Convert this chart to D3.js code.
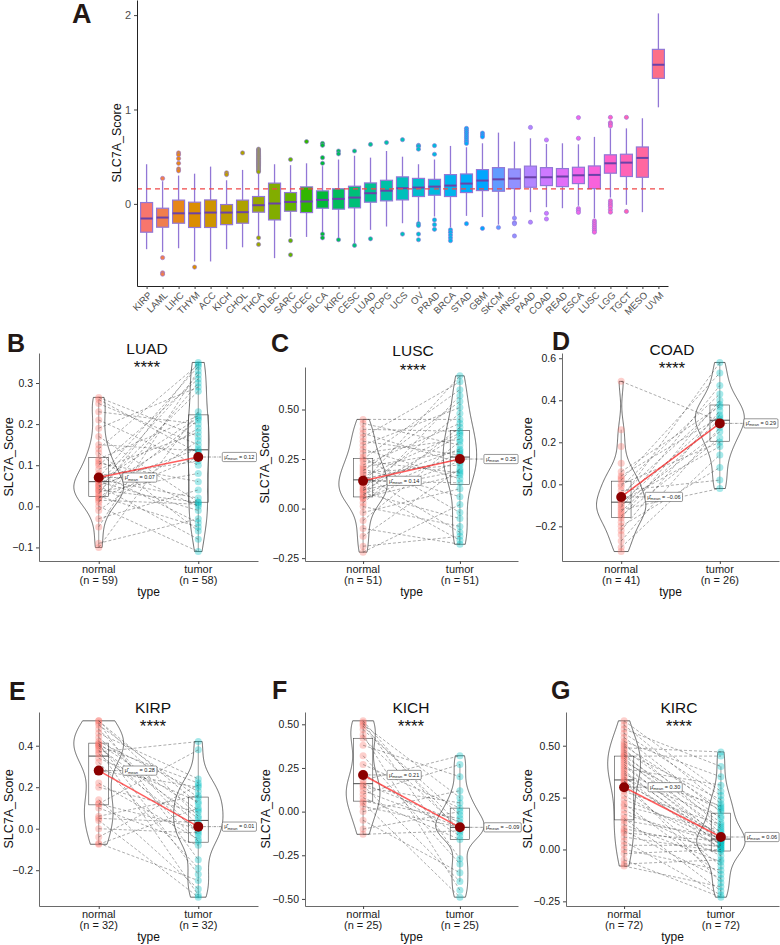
<!DOCTYPE html>
<html><head><meta charset="utf-8">
<script src="https://cdn.jsdelivr.net/npm/d3@7"></script>
<style>body{margin:0;background:#fff} svg{display:block} text{font-family:"Liberation Sans",Arial,Helvetica,sans-serif}</style>
</head><body><svg id="chart" width="780" height="945"></svg>
<script>
// ---------- Panel A data ----------
const cancerTypes = ["KIRP","LAML","LIHC","THYM","ACC","KICH","CHOL","THCA","DLBC","SARC","UCEC","BLCA","KIRC","CESC","LUAD","PCPG","UCS","OV","PRAD","BRCA","STAD","GBM","SKCM","HNSC","PAAD","COAD","READ","ESCA","LUSC","LGG","TGCT","MESO","UVM"];
const boxQ3 = [0.014,-0.046,0.04,0.018,0.042,-0.007,0.04,0.078,0.22,0.12,0.18,0.138,0.16,0.187,0.222,0.25,0.286,0.27,0.26,0.31,0.317,0.363,0.384,0.37,0.40,0.384,0.374,0.388,0.402,0.52,0.526,0.603,1.637];
const boxMedian = [-0.155,-0.145,-0.10,-0.10,-0.092,-0.092,-0.088,-0.014,0.004,0.02,0.025,0.042,0.053,0.067,0.113,0.14,0.166,0.173,0.183,0.194,0.215,0.247,0.26,0.268,0.282,0.282,0.29,0.303,0.307,0.43,0.437,0.487,1.474];
const boxQ1 = [-0.30,-0.247,-0.205,-0.25,-0.25,-0.22,-0.205,-0.088,-0.17,-0.078,-0.092,-0.046,-0.056,-0.042,0.018,0.032,0.042,0.078,0.092,0.078,0.12,0.141,0.134,0.162,0.176,0.194,0.183,0.215,0.162,0.325,0.29,0.282,1.33];
const whiskerHigh = [0.42,0.24,0.30,0.32,0.395,0.25,0.36,0.32,0.42,0.41,0.43,0.40,0.47,0.51,0.49,0.56,0.50,0.42,0.47,0.614,0.60,0.642,0.755,0.66,0.695,0.635,0.642,0.631,0.71,0.80,0.80,0.907,2.018];
const whiskerLow = [-0.48,-0.51,-0.47,-0.61,-0.61,-0.48,-0.46,-0.35,-0.575,-0.35,-0.35,-0.31,-0.36,-0.42,-0.275,-0.24,-0.205,-0.19,-0.134,-0.25,-0.127,-0.14,-0.22,-0.127,-0.088,-0.035,-0.046,-0.02,-0.15,0.067,-0.01,-0.088,1.023];
const outlierValues = [
  [], [0.27,-0.57,-0.73,-0.745], [0.54,0.52,0.48,0.43,0.37,0.35], [-0.67], [], [0.33,0.31], [0.54],
  [0.58,0.57,0.56,0.55,0.54,0.53,0.52,0.51,0.50,0.49,0.48,0.47,0.46,0.45,0.44,0.43,0.42,0.41,0.40,0.39,0.38,0.37,0.36,0.35,0.34,-0.36,-0.43],
  [], [0.47,-0.39,-0.54], [0.66], [0.64,0.62,0.49,0.43,-0.32,-0.36], [0.56,0.53,-0.38], [0.56,-0.44], [0.63,-0.37],
  [0.65], [0.68,-0.32], [0.62,0.61,0.58,-0.21,-0.23,-0.32,-0.38], [0.617,0.526,-0.17,-0.22,-0.27], [-0.275,-0.30,-0.33,-0.36,-0.39],
  [0.80,0.78,0.76,0.74,0.72,0.70,0.68,0.66,0.64,-0.21], [0.75,0.73,0.71,-0.26], [-0.25], [-0.15,-0.20,-0.21,-0.34], [0.81,-0.194],
  [0.677,-0.10,-0.16], [], [0.914,0.695,-0.05,-0.07,-0.09], [-0.18,-0.20,-0.22,-0.24,-0.26,-0.28,-0.30],
  [0.917,0.86,0.846,0.825,0.032,0.01,-0.01,-0.03,-0.06,-0.088], [0.917,-0.08], [], []
];
const referenceLine = 0.159;
const yTicksA = [0, 1, 2];

// ---------- Paired panels data ----------
const luadNormal = [-0.10,-0.09,-0.05,-0.03,-0.01,0.00,0.01,0.015,0.02,0.02,0.025,0.03,0.035,0.04,0.04,0.045,0.05,0.05,0.055,0.06,0.06,0.065,0.07,0.075,0.08,0.09,0.10,0.105,0.11,0.115,0.13,0.14,0.15,0.17,0.19,0.21,0.23,0.25,0.26,0.265];
const luadTumor = [0.23,-0.03,0.33,0.04,0.16,-0.11,0.30,0.005,0.21,0.12,-0.05,0.35,0.08,0.19,0.01,0.28,-0.08,0.14,0.32,-0.01,0.215,0.02,0.34,0.11,-0.04,0.18,0.31,0.06,0.00,0.22,-0.06,0.345,0.135,0.01,0.29,0.10,0.20,0.15,0.13,0.17];
const luadMeans = [0.07, 0.12];
const luadN = [59, 58];

const luscNormal = [-0.22,-0.19,-0.14,-0.10,-0.06,-0.02,0.01,0.03,0.05,0.055,0.06,0.07,0.08,0.09,0.095,0.10,0.11,0.12,0.13,0.14,0.15,0.16,0.17,0.18,0.19,0.20,0.21,0.22,0.24,0.25,0.26,0.28,0.30,0.32,0.34,0.36,0.38,0.40,0.43,0.45];
const luscTumor = [0.02,-0.14,0.20,-0.18,0.34,0.10,-0.09,0.41,0.24,0.17,0.57,0.28,-0.05,0.37,0.19,0.48,-0.16,0.30,0.67,0.13,0.25,0.38,-0.12,0.22,0.54,0.06,0.29,0.43,0.18,0.60,-0.02,0.35,0.15,0.51,0.27,0.64,0.23,0.39,0.32,0.45];
const luscMeans = [0.14, 0.25];
const luscN = [51, 51];

const coadNormal = [0.49,-0.30,-0.27,-0.22,-0.20,-0.16,-0.15,-0.13,-0.12,-0.11,-0.10,-0.09,-0.08,-0.07,-0.06,-0.05,-0.03,-0.01,0.00,0.02,0.04,0.06,-0.32,-0.24,-0.18,-0.14,0.03,0.10,0.18,0.26];
const coadTumor = [0.30,0.14,0.27,0.35,0.08,0.40,0.22,0.31,-0.02,0.47,0.25,0.33,0.18,0.58,0.29,0.38,0.02,0.43,0.20,0.53,0.32,0.37];
const coadMeans = [-0.06, 0.29];
const coadN = [41, 26];

const kirpNormal = [-0.075,-0.07,-0.04,0.00,0.04,0.05,0.06,0.10,0.12,0.12,0.14,0.20,0.22,0.28,0.32,0.34,0.36,0.37,0.38,0.39,0.40,0.40,0.41,0.41,0.42,0.44,0.46,0.48,0.50,0.51,0.52,0.52];
const kirpTumor = [0.10,-0.25,0.21,-0.02,-0.33,0.03,0.16,-0.08,0.38,0.00,-0.29,0.08,-0.05,0.20,-0.19,0.13,-0.01,0.42,-0.32,0.05,0.22,-0.06,0.09,-0.22,0.18,0.02,0.24,-0.03,0.15,-0.15,0.12,0.06];
const kirpMeans = [0.28, 0.01];
const kirpN = [32, 32];

const kichNormal = [-0.13,-0.10,-0.05,0.00,0.03,0.05,0.06,0.08,0.10,0.12,0.14,0.15,0.16,0.18,0.22,0.27,0.32,0.38,0.42,0.44,0.47,0.49,0.50,0.51,0.52];
const kichTumor = [-0.11,0.00,-0.35,0.12,-0.09,-0.49,-0.04,-0.16,0.27,-0.09,0.05,-0.40,-0.06,0.32,-0.14,0.02,-0.30,0.20,-0.10,-0.45,-0.02,-0.08,0.08,-0.27,-0.12];
const kichMeans = [0.21, -0.09];
const kichN = [25, 25];

const kircNormal = [-0.08,-0.07,-0.05,-0.02,0.00,0.02,0.04,0.06,0.08,0.09,0.10,0.12,0.14,0.15,0.17,0.19,0.21,0.22,0.24,0.26,0.28,0.30,0.32,0.33,0.33,0.34,0.35,0.36,0.37,0.38,0.39,0.40,0.41,0.42,0.43,0.44,0.45,0.45,0.46,0.47,0.48,0.49,0.50,0.51,0.52,0.54,0.56,0.58,0.60,0.62];
const kircTumor = [-0.18,-0.05,-0.23,0.00,-0.10,0.02,-0.22,-0.01,0.04,-0.14,0.01,-0.06,0.06,-0.20,0.03,-0.03,0.09,-0.12,0.05,0.01,0.12,-0.08,0.07,0.03,-0.16,0.16,0.00,0.21,0.04,0.02,0.31,0.06,0.04,0.19,0.10,0.05,0.45,0.13,0.08,0.24,0.15,0.47,0.20,0.11,0.35,0.18,0.26,0.40,0.22,0.28];
const kircMeans = [0.30, 0.06];
const kircN = [72, 72];

const groupNames = ["normal", "tumor"];
const significance = "****";

// ---------- helpers ----------
function hcl2hex(h, c, l) {
  const hr = h * Math.PI / 180;
  const U = c * Math.cos(hr), V = c * Math.sin(hr);
  const Xn = 95.047, Yn = 100, Zn = 108.883;
  const den = Xn + 15 * Yn + 3 * Zn;
  const un = 4 * Xn / den, vn = 9 * Yn / den;
  const Y = Yn * (l > 8 ? Math.pow((l + 16) / 116, 3) : l / 903.2963);
  const u = U / (13 * l) + un, v = V / (13 * l) + vn;
  const X = 9 * Y * u / (4 * v);
  const Z = 3 * Y / v - X / 3 - 5 * Y;
  const x = X / 100, y = Y / 100, z = Z / 100;
  const r = 3.240479 * x - 1.537150 * y - 0.498535 * z;
  const g = -0.969256 * x + 1.875992 * y + 0.041556 * z;
  const b = 0.055648 * x - 0.204043 * y + 1.057311 * z;
  const gam = t => { t = t <= 0.0031308 ? 12.92 * t : 1.055 * Math.pow(t, 1 / 2.4) - 0.055; return Math.round(255 * Math.max(0, Math.min(1, t))); };
  return d3.rgb(gam(r), gam(g), gam(b)).formatHex();
}

const svg = d3.select("#chart");

// ---------- Panel A ----------
(function drawA() {
  const g = svg.append("g");
  const xA = d3.scalePoint().domain(cancerTypes).range([137, 668]).padding(0.6);
  const yA = d3.scaleLinear().domain([-0.87, 2.16]).range([286, 0]);
  const n = cancerTypes.length;
  const fills = cancerTypes.map((c, i) => hcl2hex(15 + 360 * i / n, 100, 65));
  const bw = xA.step() * 0.75;
  const rows = cancerTypes.map((c, i) => ({ c, i, q1: boxQ1[i], med: boxMedian[i], q3: boxQ3[i], lo: whiskerLow[i], hi: whiskerHigh[i], out: outlierValues[i], fill: fills[i] }));
  const purple = "#9277d6", dark = "#6a42a8";
  const bx = g.selectAll("g.box").data(rows).join("g").attr("class", "box");
  bx.append("line").attr("x1", d => xA(d.c)).attr("x2", d => xA(d.c)).attr("y1", d => yA(d.hi)).attr("y2", d => yA(d.q3)).attr("stroke", purple).attr("stroke-width", 1.3);
  bx.append("line").attr("x1", d => xA(d.c)).attr("x2", d => xA(d.c)).attr("y1", d => yA(d.q1)).attr("y2", d => yA(d.lo)).attr("stroke", purple).attr("stroke-width", 1.3);
  bx.append("rect").attr("x", d => xA(d.c) - bw / 2).attr("width", bw).attr("y", d => yA(d.q3)).attr("height", d => yA(d.q1) - yA(d.q3))
    .attr("fill", d => d.fill).attr("stroke", purple).attr("stroke-width", 1.2);
  bx.append("line").attr("x1", d => xA(d.c) - bw / 2).attr("x2", d => xA(d.c) + bw / 2).attr("y1", d => yA(d.med)).attr("y2", d => yA(d.med)).attr("stroke", dark).attr("stroke-width", 2);
  bx.each(function (d) {
    d3.select(this).selectAll("circle").data(d.out).join("circle")
      .attr("cx", xA(d.c)).attr("cy", v => yA(v)).attr("r", 2.1)
      .attr("fill", d.fill).attr("stroke", purple).attr("stroke-width", 0.6);
  });
  g.append("line").attr("x1", 137).attr("x2", 668).attr("y1", yA(referenceLine)).attr("y2", yA(referenceLine))
    .attr("stroke", "#f04848").attr("stroke-width", 1.2).attr("stroke-dasharray", "5,4");
  const ay = g.append("g").attr("transform", "translate(137,0)")
    .call(d3.axisLeft(yA).tickValues(yTicksA).tickFormat(d3.format("d")).tickSize(3).tickSizeOuter(0));
  ay.select(".domain").attr("stroke", "#222").attr("stroke-width", 1);
  ay.selectAll(".tick line").attr("stroke", "#444");
  ay.selectAll(".tick text").attr("fill", "#4d4d4d").attr("font-size", 11).attr("font-family", '"Liberation Sans",Arial,sans-serif');
  const ax = g.append("g").attr("transform", "translate(0,286)")
    .call(d3.axisBottom(xA).tickSize(3).tickSizeOuter(0).tickFormat(""));
  ax.select(".domain").attr("stroke", "#222").attr("stroke-width", 1);
  ax.selectAll(".tick line").attr("stroke", "#444");
  g.selectAll("text.xl").data(cancerTypes).join("text").attr("class", "xl")
    .attr("transform", d => `translate(${xA(d) + 1},${291}) rotate(-45)`)
    .attr("text-anchor", "end").attr("dy", "0.71em").attr("font-size", 9.5).attr("fill", "#4d4d4d").text(d => d);
  g.append("text").attr("transform", "translate(117,143) rotate(-90)").attr("text-anchor", "middle").attr("dy", "0.35em")
    .attr("font-size", 12.5).attr("fill", "#111").text("SLC7A_Score");
  g.append("text").attr("x", 72).attr("y", 23).attr("font-size", 27).attr("font-weight", "bold").attr("fill", "#231815").text("A");
})();

// ---------- Paired panels ----------
function drawPaired(p) {
  const g = svg.append("g");
  const all = p.normal.concat(p.tumor);
  const [mn, mx] = d3.extent(all);
  const pad = (mx - mn) * 0.05;
  const y = d3.scaleLinear().domain([mn - pad, mx + pad]).range([p.bottom, p.top]);
  const x = d3.scalePoint().domain(groupNames).range([p.left, p.right]).padding(0.6);
  const groups = [
    { key: groupNames[0], vals: p.normal, color: "#F8766D", mean: p.means[0], n: p.n[0] },
    { key: groupNames[1], vals: p.tumor, color: "#00BFC4", mean: p.means[1], n: p.n[1] }
  ];
  groups.forEach(gr => {
    const s = gr.vals.slice().sort(d3.ascending);
    const sd = d3.deviation(s);
    const q1 = d3.quantile(s, 0.25), q3 = d3.quantile(s, 0.75);
    const bwd = 0.9 * Math.min(sd, (q3 - q1) / 1.34) * Math.pow(s.length, -0.2);
    const lo = s[0], hi = s[s.length - 1];
    gr.dens = d3.range(0, 201).map(k => {
      const v = lo + (hi - lo) * k / 200;
      const d = d3.mean(s, t => Math.exp(-0.5 * ((v - t) / bwd) ** 2)) / (bwd * Math.sqrt(2 * Math.PI));
      return { v, d };
    });
    gr.q1 = q1; gr.q3 = q3; gr.med = d3.median(s);
    const iqr = q3 - q1;
    gr.wlo = d3.min(s.filter(v => v >= q1 - 1.5 * iqr));
    gr.whi = d3.max(s.filter(v => v <= q3 + 1.5 * iqr));
    gr.cx = x(gr.key);
  });
  const maxD = d3.max(groups, gr => d3.max(gr.dens, d => d.d));
  const halfMax = x.step() * 0.25;
  const bw = x.step() * 0.2;
  groups.forEach(gr => {
    const area = d3.area()
      .x0(d => gr.cx - d.d / maxD * halfMax).x1(d => gr.cx + d.d / maxD * halfMax).y(d => y(d.v));
    g.append("path").attr("d", area(gr.dens)).attr("fill", "none").attr("stroke", "#2b2b2b").attr("stroke-width", 0.7);
    g.append("line").attr("x1", gr.cx).attr("x2", gr.cx).attr("y1", y(gr.whi)).attr("y2", y(gr.q3)).attr("stroke", "#555").attr("stroke-width", 0.6);
    g.append("line").attr("x1", gr.cx).attr("x2", gr.cx).attr("y1", y(gr.q1)).attr("y2", y(gr.wlo)).attr("stroke", "#555").attr("stroke-width", 0.6);
    g.append("rect").attr("x", gr.cx - bw / 2).attr("width", bw).attr("y", y(gr.q3)).attr("height", y(gr.q1) - y(gr.q3))
      .attr("fill", "none").attr("stroke", "#444").attr("stroke-width", 0.6);
    g.append("line").attr("x1", gr.cx - bw / 2).attr("x2", gr.cx + bw / 2).attr("y1", y(gr.med)).attr("y2", y(gr.med)).attr("stroke", "#333").attr("stroke-width", 0.9);
  });
  groups.forEach(gr => {
    g.append("g").selectAll("circle").data(gr.vals).join("circle")
      .attr("cx", gr.cx).attr("cy", v => y(v)).attr("r", 3.5).attr("fill", gr.color).attr("fill-opacity", 0.35);
  });
  const npair = Math.min(p.normal.length, p.tumor.length);
  g.append("g").selectAll("line").data(d3.range(npair)).join("line")
    .attr("x1", groups[0].cx).attr("x2", groups[1].cx)
    .attr("y1", i => y(p.normal[i])).attr("y2", i => y(p.tumor[i]))
    .attr("stroke", "#3a3a3a").attr("stroke-width", 0.6).attr("stroke-dasharray", "3,2").attr("stroke-opacity", 0.7);
  g.append("line").attr("x1", groups[0].cx).attr("x2", groups[1].cx).attr("y1", y(groups[0].mean)).attr("y2", y(groups[1].mean))
    .attr("stroke", "#ff2a2a").attr("stroke-width", 1.6).attr("stroke-opacity", 0.75);
  const fmt = d3.format(".2f");
  groups.forEach(gr => {
    const lx = gr.cx + 24, ly = y(gr.mean);
    g.append("line").attr("x1", gr.cx).attr("x2", lx).attr("y1", ly).attr("y2", ly)
      .attr("stroke", "#333").attr("stroke-width", 0.5).attr("stroke-dasharray", "2.5,1,0.6,1");
    const lg = g.append("g");
    const rect = lg.append("rect");
    const t = lg.append("text").attr("x", lx + 2).attr("y", ly + 1.8).attr("font-size", 5.5).attr("fill", "#222");
    t.append("tspan").text("\u03bc\u0302");
    t.append("tspan").attr("dy", 1.3).attr("font-size", 4).text("mean");
    t.append("tspan").attr("dy", -1.3).text(" = " + fmt(gr.mean));
    const bb = t.node().getBBox();
    rect.attr("x", lx).attr("y", ly - 4.6).attr("width", bb.width + 4).attr("height", 9.2).attr("rx", 1.2)
      .attr("fill", "white").attr("stroke", "#333").attr("stroke-width", 0.5);
  });
  g.append("g").selectAll("circle").data(groups).join("circle")
    .attr("cx", d => d.cx).attr("cy", d => y(d.mean)).attr("r", 5).attr("fill", "#8b0000");
  const ay = g.append("g").attr("transform", `translate(${p.left},0)`)
    .call(d3.axisLeft(y).tickValues(p.ticks).tickFormat(d3.format(p.fmt)).tickSize(3).tickSizeOuter(0));
  ay.select(".domain").attr("stroke", "#444").attr("stroke-width", 0.8);
  ay.selectAll(".tick line").attr("stroke", "#444");
  ay.selectAll(".tick text").attr("fill", "#1a1a1a").attr("font-size", 10.5).attr("font-family", '"Liberation Sans",Arial,sans-serif');
  const ax = g.append("g").attr("transform", `translate(0,${p.bottom})`)
    .call(d3.axisBottom(x).tickSize(3).tickSizeOuter(0).tickFormat(""));
  ax.select(".domain").attr("stroke", "#444").attr("stroke-width", 0.8);
  ax.selectAll(".tick line").attr("stroke", "#444");
  groups.forEach(gr => {
    g.append("text").attr("x", gr.cx).attr("y", p.bottom + 11.5).attr("text-anchor", "middle").attr("font-size", 11).attr("fill", "#1a1a1a").text(gr.key);
    g.append("text").attr("x", gr.cx).attr("y", p.bottom + 23).attr("text-anchor", "middle").attr("font-size", 11).attr("fill", "#1a1a1a").text(`(n = ${gr.n})`);
  });
  g.append("text").attr("x", (p.left + p.right) / 2).attr("y", p.bottom + 35).attr("text-anchor", "middle").attr("font-size", 12).attr("fill", "#111").text("type");
  g.append("text").attr("transform", `translate(${p.ylabX},${(p.top + p.bottom) / 2}) rotate(-90)`).attr("text-anchor", "middle").attr("dy", "0.35em")
    .attr("font-size", 12.5).attr("fill", "#111").text("SLC7A_Score");
  g.append("text").attr("x", p.titleX).attr("y", p.titleY).attr("text-anchor", "middle").attr("font-size", 15.5).attr("fill", "#111").text(p.title);
  g.append("text").attr("x", p.titleX).attr("y", p.starY).attr("text-anchor", "middle").attr("font-size", 17).attr("fill", "#111").text(significance);
  g.append("text").attr("x", p.letterX).attr("y", p.letterY).attr("font-size", 25).attr("font-weight", "bold").attr("fill", "#231815").text(p.letter);
}

const panelLayout = [
  { title: "LUAD", letter: "B", normal: luadNormal, tumor: luadTumor, means: luadMeans, n: luadN, left: 39, right: 258, top: 353, bottom: 561, ticks: [-0.1, 0, 0.1, 0.2, 0.3], fmt: ".1f", letterX: 7, letterY: 352, ylabX: 9, titleX: 147, titleY: 354, starY: 373 },
  { title: "LUSC", letter: "C", normal: luscNormal, tumor: luscTumor, means: luscMeans, n: luscN, left: 305, right: 518, top: 367, bottom: 561, ticks: [-0.25, 0, 0.25, 0.5], fmt: ".2f", letterX: 271, letterY: 352, ylabX: 265, titleX: 413, titleY: 356, starY: 376 },
  { title: "COAD", letter: "D", normal: coadNormal, tumor: coadTumor, means: coadMeans, n: coadN, left: 562, right: 779, top: 353, bottom: 561, ticks: [-0.2, 0, 0.2, 0.4, 0.6], fmt: ".1f", letterX: 552, letterY: 350, ylabX: 528, titleX: 672, titleY: 355, starY: 374 },
  { title: "KIRP", letter: "E", normal: kirpNormal, tumor: kirpTumor, means: kirpMeans, n: kirpN, left: 39, right: 258, top: 712, bottom: 906, ticks: [-0.2, 0, 0.2, 0.4], fmt: ".1f", letterX: 9, letterY: 700, ylabX: 9, titleX: 153, titleY: 713, starY: 732 },
  { title: "KICH", letter: "F", normal: kichNormal, tumor: kichTumor, means: kichMeans, n: kichN, left: 305, right: 518, top: 712, bottom: 906, ticks: [-0.5, -0.25, 0, 0.25, 0.5], fmt: ".2f", letterX: 272, letterY: 699, ylabX: 266, titleX: 411, titleY: 713, starY: 732 },
  { title: "KIRC", letter: "G", normal: kircNormal, tumor: kircTumor, means: kircMeans, n: kircN, left: 566, right: 779, top: 712, bottom: 906, ticks: [-0.25, 0, 0.25, 0.5], fmt: ".2f", letterX: 551, letterY: 699, ylabX: 528, titleX: 679, titleY: 713, starY: 732 }
];
panelLayout.forEach(drawPaired);
</script></body></html>
